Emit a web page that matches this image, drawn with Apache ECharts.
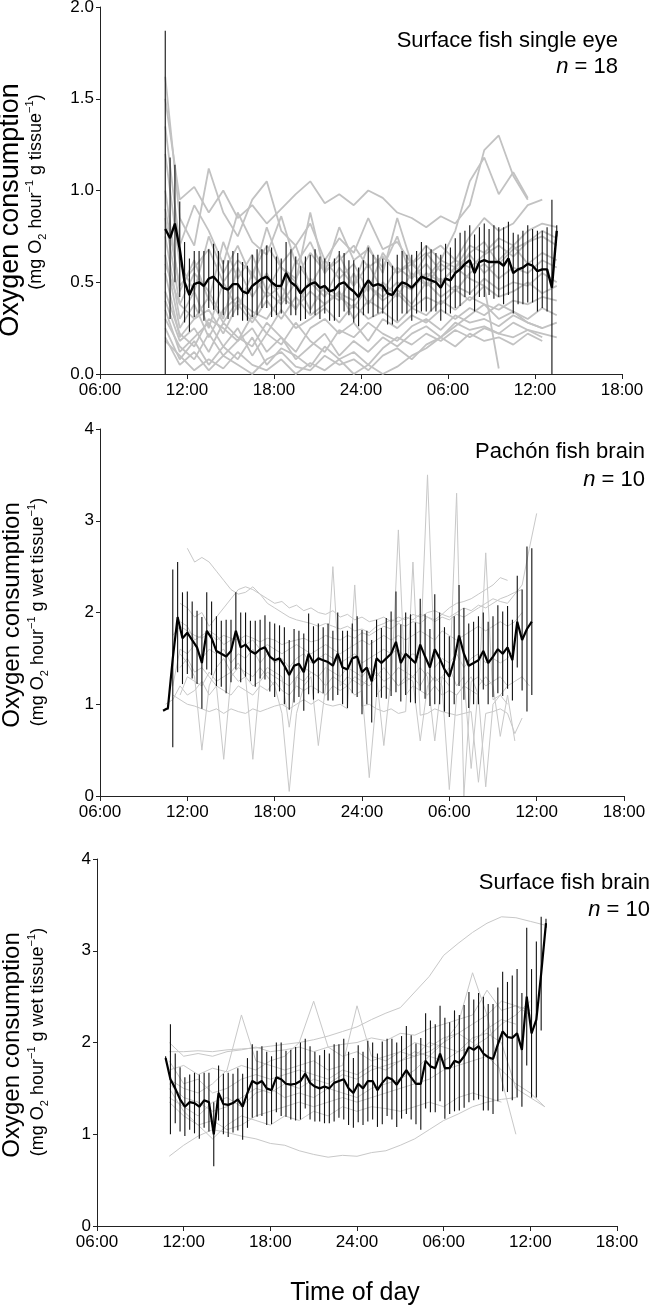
<!DOCTYPE html>
<html><head><meta charset="utf-8">
<script src="https://cdn.jsdelivr.net/npm/echarts@6/dist/echarts.min.js"></script>
<style>html,body{margin:0;padding:0;background:#fff}#c{width:660px;height:1310px}</style>
</head><body><div id="c"></div>
<script>
// ---------- shared ----------
const timeTickLabels = ['06:00','12:00','18:00','24:00','06:00','12:00','18:00'];

// ---------- Panel 1 : Surface fish single eye (n = 18) ----------
const eyeMeanStart = 10.5, eyeMeanStep = 1/3;
const eyeMean = [0.79,0.74,0.82,0.68,0.50,0.43,0.49,0.50,0.48,0.52,
  0.53,0.50,0.47,0.46,0.49,0.49,0.45,0.44,0.48,0.50,
  0.52,0.53,0.50,0.48,0.48,0.55,0.50,0.48,0.44,0.47,
  0.49,0.50,0.47,0.48,0.45,0.46,0.49,0.50,0.47,0.45,
  0.42,0.47,0.51,0.48,0.49,0.48,0.44,0.43,0.47,0.50,
  0.49,0.47,0.50,0.53,0.52,0.51,0.50,0.47,0.52,0.51,
  0.55,0.57,0.60,0.62,0.55,0.61,0.62,0.61,0.61,0.61,
  0.59,0.63,0.55,0.57,0.58,0.60,0.59,0.56,0.57,0.57,
  0.47,0.78];
const eyeSE = [1.08,0.44,0.32,0.26,0.22,0.20,0.18,0.17,0.19,0.16,
  0.18,0.17,0.15,0.16,0.18,0.17,0.16,0.15,0.17,0.18,
  0.16,0.17,0.19,0.16,0.15,0.17,0.18,0.16,0.15,0.17,
  0.16,0.18,0.17,0.15,0.16,0.17,0.18,0.16,0.15,0.17,
  0.16,0.15,0.18,0.17,0.16,0.15,0.17,0.16,0.18,0.17,
  0.16,0.18,0.17,0.19,0.18,0.17,0.16,0.18,0.19,0.18,
  0.19,0.20,0.18,0.19,0.21,0.19,0.20,0.18,0.20,0.19,
  0.21,0.20,0.22,0.19,0.20,0.21,0.20,0.22,0.21,0.23,
  0.48,0.03];
const eyeTraceStart = 10.5, eyeTraceStep = 1;
const eyeTraces = [
  [1.50,0.95,1.02,0.88,1.00,0.85,0.92,0.82,0.90,0.98,1.05,0.93,0.98,0.92,1.00,0.96,0.88,0.85,0.80,0.86,0.82,0.92,1.22,1.30,1.08,0.95,null,null],
  [1.62,0.85,0.70,1.12,0.88,0.75,0.95,1.05,0.78,0.70,0.82,0.62,0.74,0.66,0.85,0.68,0.72,0.60,0.70,0.62,0.78,1.05,1.18,0.98,1.10,0.96,null,null],
  [1.35,0.70,0.92,0.78,0.60,0.88,0.72,0.65,0.86,0.60,0.72,0.55,0.80,0.62,0.68,0.58,0.75,0.52,0.65,0.70,0.62,0.75,0.85,0.78,0.82,0.92,0.95,null],
  [1.20,0.60,0.45,0.75,0.55,0.70,0.52,0.80,0.58,0.50,0.88,0.55,0.65,0.48,0.70,0.55,0.85,0.60,0.52,0.62,0.58,0.70,0.66,0.74,0.70,0.78,0.82,0.80],
  [1.00,0.45,0.62,0.40,0.72,0.52,0.65,0.45,0.60,0.70,0.48,0.62,0.52,0.60,0.45,0.66,0.55,0.62,0.48,0.60,0.55,0.66,0.72,0.60,0.68,0.72,0.75,0.70],
  [0.85,0.38,0.55,0.45,0.30,0.58,0.42,0.55,0.40,0.62,0.50,0.42,0.58,0.48,0.60,0.45,0.58,0.52,0.60,0.50,0.58,0.65,0.55,0.62,0.70,0.60,0.66,0.62],
  [0.75,0.30,0.45,0.25,0.50,0.35,0.55,0.42,0.48,0.35,0.52,0.45,0.40,0.55,0.38,0.50,0.42,0.55,0.48,0.52,0.45,0.55,0.60,0.52,0.58,0.55,0.62,0.58],
  [0.65,0.25,0.38,0.20,0.35,0.42,0.30,0.45,0.38,0.50,0.35,0.48,0.42,0.36,0.48,0.40,0.46,0.38,0.50,0.42,0.48,0.44,0.52,0.46,0.50,0.48,0.55,0.50],
  [0.55,0.20,0.30,0.35,0.22,0.38,0.28,0.40,0.30,0.42,0.32,0.38,0.45,0.30,0.40,0.35,0.44,0.36,0.42,0.38,0.46,0.40,0.48,0.42,0.45,0.50,0.44,0.48],
  [0.45,0.22,0.15,0.30,0.25,0.18,0.32,0.22,0.35,0.25,0.30,0.36,0.28,0.38,0.30,0.34,0.28,0.36,0.32,0.40,0.35,0.42,0.38,0.35,0.40,0.38,0.42,0.40],
  [0.40,0.18,0.25,0.12,0.28,0.20,0.15,0.28,0.20,0.12,0.25,0.30,0.22,0.28,0.18,0.30,0.25,0.32,0.28,0.35,0.30,0.36,0.32,0.38,0.34,0.30,0.36,0.32],
  [0.35,0.12,0.20,0.28,0.15,0.25,0.10,0.22,0.16,0.28,0.18,0.12,0.24,0.20,0.28,0.22,0.18,0.26,0.30,0.24,0.32,0.28,0.30,0.26,0.32,0.28,0.25,0.28],
  [0.30,0.15,0.08,0.22,0.10,0.18,0.25,0.12,0.20,0.08,0.15,0.22,0.10,0.18,0.12,0.20,0.15,0.22,0.26,0.20,0.28,0.24,0.26,0.22,0.28,0.24,0.22,0.20],
  [0.25,0.08,0.18,0.05,0.15,0.08,0.20,0.05,0.14,0.10,0.04,0.15,0.08,0.12,0.05,0.14,0.20,0.16,0.22,0.18,0.24,0.20,0.25,0.22,0.20,0.24,0.20,null],
  [0.20,0.05,0.12,0.02,0.10,0.05,0.00,0.08,0.12,0.04,0.02,0.10,0.05,0.08,0.02,0.10,0.14,0.08,0.16,0.20,0.15,0.22,0.18,0.20,0.16,0.22,0.18,null],
  [0.18,0.10,0.02,0.08,0.03,0.12,0.05,0.02,0.08,0.00,0.06,0.02,0.08,0.00,0.05,0.00,0.04,0.10,0.14,0.20,0.26,0.32,0.38,0.30,0.34,0.28,0.25,null],
  [0.60,0.38,0.30,0.42,0.28,0.40,0.34,0.30,0.42,0.36,0.45,0.38,0.44,0.40,0.48,0.42,0.50,0.46,0.55,0.50,0.58,0.52,0.48,0.03,null,null,null,null],
  [0.90,0.48,0.58,0.68,0.50,0.62,0.55,0.70,0.58,0.52,0.66,0.56,0.62,0.70,0.58,0.64,0.55,0.60,0.66,0.56,0.62,0.58,0.65,0.70,0.64,0.72,0.78,0.74]
];

// ---------- Panel 2 : Pachón fish brain (n = 10) ----------
const pachonMeanStart = 10 + 20/60, pachonMeanStep = 1/3;
const pachonMean = [0.93,0.96,1.50,1.95,1.72,1.78,1.70,1.62,1.45,1.80,
  1.72,1.58,1.55,1.52,1.58,1.80,1.62,1.65,1.58,1.55,
  1.60,1.62,1.52,1.48,1.50,1.42,1.32,1.42,1.44,1.35,
  1.55,1.45,1.50,1.48,1.46,1.42,1.55,1.40,1.38,1.50,
  1.52,1.35,1.40,1.25,1.50,1.45,1.50,1.55,1.68,1.45,
  1.55,1.50,1.45,1.65,1.52,1.40,1.60,1.50,1.38,1.30,
  1.48,1.75,1.55,1.42,1.45,1.48,1.58,1.45,1.52,1.60,
  1.55,1.62,1.48,1.90,1.70,1.82,1.90];
const pachonSE = [0,0.02,0.97,0.60,0.50,0.45,0.42,0.40,0.50,0.42,
  0.40,0.38,0.36,0.40,0.34,0.42,0.38,0.35,0.33,0.36,
  0.32,0.35,0.38,0.40,0.36,0.42,0.38,0.40,0.36,0.42,
  0.44,0.40,0.38,0.36,0.42,0.38,0.45,0.40,0.42,0.38,
  0.44,0.46,0.40,0.45,0.42,0.38,0.44,0.46,0.55,0.42,
  0.45,0.48,0.44,0.50,0.46,0.42,0.60,0.50,0.46,0.44,
  0.48,0.55,0.50,0.46,0.45,0.48,0.42,0.45,0.44,0.48,
  0.46,0.45,0.44,0.50,0.55,0.90,0.80];
const pachonTraceStart = 10.5, pachonTraceStep = 0.5;
const pachonTraces = [
  [null,null,null,2.70,2.55,2.60,2.55,2.45,2.35,2.25,2.20,2.22,2.28,2.20,2.15,2.10,2.12,2.05,2.08,2.02,2.05,2.00,1.98,2.02,1.95,1.98,1.92,1.95,1.90,1.92,1.95,1.90,1.95,1.92,1.98,1.95,2.00,2.02,1.98,2.05,2.10,2.12,2.15,2.20,2.25,2.30,2.38,2.35,null,null,null,null],
  [null,null,2.10,2.05,1.95,2.00,1.85,1.95,2.05,2.15,2.25,2.28,2.25,2.20,2.10,2.05,2.00,1.95,1.92,1.90,1.88,1.85,1.88,1.85,1.82,1.85,1.80,1.82,1.78,1.85,1.88,1.92,1.90,1.95,1.92,1.98,1.95,1.90,1.95,1.92,1.98,1.95,2.00,2.05,2.10,2.15,2.12,2.10,2.20,2.30,2.70,3.08],
  [null,1.75,1.85,1.80,1.75,1.72,1.78,1.70,1.75,1.72,1.70,1.75,1.72,1.68,1.72,1.70,1.65,1.68,1.70,1.72,1.68,1.70,1.75,1.72,1.70,1.75,1.72,1.78,1.75,1.80,1.85,1.82,1.88,1.85,1.90,1.88,1.95,1.92,1.98,1.95,2.00,2.05,2.02,2.08,2.05,2.10,2.15,2.18,2.22,2.25,null,null],
  [null,1.20,1.60,1.55,1.65,1.50,1.60,1.55,1.60,1.45,1.55,1.50,1.60,1.45,1.55,1.45,1.50,1.40,1.50,1.55,1.45,1.50,1.55,1.50,1.45,1.50,1.55,1.45,1.50,1.55,1.60,1.55,1.60,1.50,1.55,1.50,3.50,1.40,1.50,1.45,1.55,1.40,1.50,1.55,1.45,1.50,1.45,1.50,1.60,null,null,null],
  [null,null,1.10,1.30,1.25,1.20,1.35,1.25,1.30,1.35,1.25,1.30,1.20,1.25,1.35,1.30,1.25,1.20,1.30,1.25,1.35,1.30,1.20,2.50,1.20,1.30,1.25,1.20,1.30,1.35,1.25,1.30,1.20,1.25,1.30,1.20,1.35,1.25,1.30,1.20,3.30,0.00,1.25,1.30,1.20,1.25,1.30,1.20,1.25,1.30,1.20,null],
  [1.00,1.05,1.20,1.10,1.15,1.25,1.10,1.20,1.15,1.10,1.20,1.15,1.10,1.20,1.15,1.25,1.15,1.10,1.20,1.15,1.20,1.15,1.10,1.20,1.15,1.20,1.10,1.15,0.20,1.10,1.20,1.15,2.90,1.10,1.20,1.15,1.10,1.20,1.10,1.15,1.10,1.20,1.15,1.10,2.65,1.05,1.10,1.00,null,null,null,null],
  [null,1.10,1.05,1.00,0.98,0.95,0.92,0.95,0.90,0.95,0.92,0.90,0.95,0.92,0.95,0.98,1.00,0.95,1.00,1.05,1.00,1.05,1.00,0.98,1.00,0.95,2.30,0.98,1.00,0.95,0.92,0.95,0.90,0.92,2.55,0.88,0.90,0.95,0.92,0.90,0.88,0.90,0.92,0.15,0.90,0.92,0.95,0.90,0.68,0.85,null,null],
  [null,null,1.40,1.50,1.35,1.40,1.30,1.20,0.40,1.30,1.40,1.35,1.30,1.40,1.30,1.20,0.90,0.05,0.90,1.20,1.30,0.55,1.20,1.30,1.25,1.20,1.30,1.25,1.20,1.30,1.40,1.30,1.20,1.30,1.25,0.60,1.20,1.30,1.20,0.07,1.10,1.20,1.30,1.10,0.10,1.00,1.10,1.20,null,null,null,null],
  [null,null,1.55,1.45,1.30,0.50,1.20,1.40,1.50,1.35,1.45,1.30,0.40,1.30,1.40,1.35,1.30,0.75,1.30,1.40,1.35,1.30,1.40,1.35,1.30,1.40,1.35,1.30,1.40,1.30,0.55,1.30,1.40,1.35,1.30,1.40,1.30,0.60,1.30,1.40,1.20,1.30,0.30,1.20,1.30,1.20,0.65,1.10,0.60,null,null,null],
  [null,null,1.90,1.85,1.70,1.75,1.80,1.75,1.65,1.70,1.75,1.65,1.70,1.60,1.65,1.60,1.55,1.60,1.65,1.60,1.55,1.60,1.65,1.60,1.55,1.60,1.65,1.70,1.65,1.70,1.75,1.70,1.75,1.70,1.75,1.80,1.75,1.70,1.80,1.75,1.70,1.75,1.80,1.85,1.80,1.85,1.90,1.85,1.90,2.00,null,null]
];

// ---------- Panel 3 : Surface fish brain (n = 10) ----------
const surfMeanStart = 10.75, surfMeanStep = 1/3;
const surfMean = [1.83,1.60,1.50,1.38,1.30,1.35,1.34,1.30,1.37,1.35,
  1.00,1.45,1.33,1.32,1.34,1.38,1.30,1.45,1.58,1.55,
  1.58,1.50,1.48,1.62,1.60,1.55,1.54,1.55,1.58,1.66,
  1.56,1.52,1.50,1.52,1.50,1.56,1.58,1.60,1.50,1.45,
  1.55,1.50,1.58,1.58,1.48,1.56,1.62,1.60,1.54,1.62,
  1.70,1.62,1.55,1.55,1.80,1.74,1.72,1.88,1.72,1.72,
  1.80,1.78,1.85,1.95,1.92,1.96,1.88,1.84,1.82,1.98,
  2.12,2.06,2.05,2.10,1.92,2.50,2.10,2.25,2.75,3.30];
const surfSE = [0.02,0.60,0.38,0.35,0.32,0.30,0.33,0.35,0.30,0.32,
  0.35,0.30,0.33,0.35,0.32,0.34,0.36,0.38,0.40,0.36,
  0.38,0.40,0.37,0.38,0.40,0.36,0.38,0.40,0.42,0.38,
  0.40,0.38,0.36,0.40,0.38,0.42,0.40,0.44,0.40,0.38,
  0.42,0.40,0.44,0.42,0.40,0.45,0.42,0.44,0.46,0.45,
  0.48,0.46,0.44,0.50,0.52,0.50,0.48,0.52,0.55,0.50,
  0.55,0.52,0.56,0.60,0.55,0.58,0.62,0.58,0.60,0.62,
  0.65,0.60,0.68,0.70,0.62,0.75,0.70,0.85,0.62,0.05];
const surfTraceStart = 11, surfTraceStep = 1;
const surfTraces = [
  [1.90,1.90,1.91,1.90,1.92,1.93,1.94,1.96,1.98,2.00,2.03,2.07,2.12,2.17,2.25,2.32,2.38,2.55,2.72,2.95,3.08,3.20,3.30,3.37,3.36,3.32,3.28],
  [0.76,0.88,0.98,1.05,1.02,0.98,0.95,0.90,0.88,0.82,0.78,0.75,0.77,0.76,0.80,0.82,0.88,0.95,1.05,1.15,1.22,1.30,1.35,1.38,1.40,null,null],
  [2.00,1.85,1.88,1.85,1.90,1.92,1.95,1.90,1.92,1.95,1.90,1.95,1.98,2.00,2.05,2.02,2.10,2.08,2.15,2.20,2.25,2.30,2.57,2.35,2.40,2.30,null],
  [1.70,1.75,1.65,1.72,1.68,1.75,1.70,1.80,1.85,2.00,2.45,1.95,1.85,1.90,1.80,1.85,1.90,2.00,1.95,2.05,2.10,2.00,2.15,2.25,2.20,null,null],
  [1.60,1.50,1.45,1.55,1.70,2.30,1.80,1.75,1.70,1.75,1.80,1.70,1.75,2.40,1.85,1.80,1.90,1.85,2.00,1.95,1.90,2.05,2.10,2.00,1.50,1.40,1.30],
  [1.55,1.40,1.35,1.25,1.30,1.40,1.50,1.45,1.55,1.50,1.60,1.55,1.65,1.60,1.70,1.75,1.80,1.85,1.90,2.00,2.20,2.76,2.30,1.60,1.00,null,null],
  [1.35,1.20,1.10,1.15,1.05,1.10,1.20,1.25,1.30,1.35,1.30,1.35,1.40,1.35,1.40,1.45,1.50,1.55,1.60,1.70,1.75,1.80,1.85,1.70,1.55,1.45,1.30],
  [1.50,1.25,1.10,0.95,1.10,1.20,1.15,1.10,1.20,1.15,1.25,1.20,1.30,1.25,1.30,1.28,1.25,1.30,1.35,1.30,1.40,1.45,1.40,1.35,null,null,null],
  [1.80,1.55,1.60,1.45,1.50,1.60,1.65,1.60,1.65,1.70,1.65,1.60,1.70,1.65,1.75,1.70,1.80,1.90,1.85,2.00,2.10,2.20,2.30,2.45,2.40,2.35,null],
  [1.40,1.30,1.20,1.35,1.40,1.30,1.45,1.50,1.40,1.45,1.40,1.50,1.45,1.40,1.50,1.55,1.60,1.70,1.85,1.80,1.90,1.95,2.05,2.20,2.30,2.45,null]
];

// ---------- build ----------
const FONT = '"Liberation Sans", Arial, Helvetica, sans-serif';
const chart = echarts.init(document.getElementById('c'), null, {renderer: 'canvas'});

const grids = [
  {left: 100, top: 7, width: 522, height: 367},
  {left: 100, top: 429, width: 524, height: 367},
  {left: 97, top: 859, width: 520, height: 367}
].map(g => Object.assign({containLabel: false, outerBoundsMode: 'none'}, g));

const axisCommon = {
  axisLine: {show: true, onZero: false, lineStyle: {color: '#222', width: 1}},
  axisTick: {show: true, inside: false, length: 5, lineStyle: {color: '#222', width: 1}},
  splitLine: {show: false},
  axisLabel: {color: '#000', fontSize: 17, fontFamily: FONT, showMinLabel: true, showMaxLabel: true}
};
const xAxes = [0, 1, 2].map(i => echarts.util.merge({
  type: 'value', gridIndex: i, min: 6, max: 42, interval: 6,
  axisLabel: {margin: 8, formatter: v => timeTickLabels[Math.round((v - 6) / 6)]}
}, axisCommon, false));
const yAxes = [
  {max: 2, interval: 0.5, fmt: v => v.toFixed(1)},
  {max: 4, interval: 1, fmt: v => String(v)},
  {max: 4, interval: 1, fmt: v => String(v)}
].map((a, i) => echarts.util.merge({
  type: 'value', gridIndex: i, min: 0, max: a.max, interval: a.interval,
  axisLabel: {margin: 6, formatter: a.fmt},
  axisTick: {length: 4}
}, axisCommon, false));

const series = [];
function addPanel(gi, traces, tStart, tStep, mean, se, mStart, mStep, ymin, ymax, greyColor, greyWidth, meanWidth) {
  traces.forEach(tr => {
    const data = [];
    tr.forEach((v, i) => { if (v !== null) data.push([tStart + i * tStep, v]); });
    series.push({type: 'line', xAxisIndex: gi, yAxisIndex: gi, data, symbol: 'none', showSymbol: false,
      silent: true, animation: false, z: 1, lineStyle: {color: greyColor, width: greyWidth}});
  });
  const err = mean.map((m, i) => [mStart + i * mStep, Math.max(ymin, m - se[i]), Math.min(ymax, m + se[i])]);
  series.push({type: 'custom', xAxisIndex: gi, yAxisIndex: gi, data: err, silent: true, animation: false, z: 2,
    encode: {x: 0, y: [1, 2]},
    renderItem: (params, api) => {
      const p1 = api.coord([api.value(0), api.value(1)]);
      const p2 = api.coord([api.value(0), api.value(2)]);
      return {type: 'line', shape: {x1: p1[0], y1: p1[1], x2: p2[0], y2: p2[1]},
        style: {stroke: '#111', lineWidth: 1.1}};
    }});
  series.push({type: 'line', xAxisIndex: gi, yAxisIndex: gi, symbol: 'none', showSymbol: false,
    silent: true, animation: false, z: 3,
    data: mean.map((m, i) => [mStart + i * mStep, m]),
    lineStyle: {color: '#000', width: meanWidth}});
}
addPanel(0, eyeTraces, eyeTraceStart, eyeTraceStep, eyeMean, eyeSE, eyeMeanStart, eyeMeanStep, 0, 2, '#c2c2c2', 1.8, 2.4);
addPanel(1, pachonTraces, pachonTraceStart, pachonTraceStep, pachonMean, pachonSE, pachonMeanStart, pachonMeanStep, 0, 4, '#c8c8c8', 1, 2.2);
addPanel(2, surfTraces, surfTraceStart, surfTraceStep, surfMean, surfSE, surfMeanStart, surfMeanStep, 0, 4, '#c8c8c8', 1, 2.2);

// ---------- texts ----------
const supRich = {
  sup: {fontSize: 11, fontFamily: FONT, verticalAlign: 'top', lineHeight: 12, fill: '#000'},
  sub: {fontSize: 11, fontFamily: FONT, verticalAlign: 'bottom', lineHeight: 16, fill: '#000'},
  it: {fontSize: 22, fontFamily: FONT, fontStyle: 'italic', fill: '#000'}
};
function rotText(x, y, text, size) {
  return {type: 'text', x, y, rotation: Math.PI / 2, silent: true,
    style: {text, fontSize: size, fontFamily: FONT, fill: '#000', align: 'center', verticalAlign: 'middle',
      textAlign: 'center', textVerticalAlign: 'middle', lineHeight: 24, rich: supRich}};
}
function rightText(x, y, text) {
  return {type: 'text', x, y, silent: true,
    style: {text, fontSize: 22, fontFamily: FONT, fill: '#000', align: 'right', verticalAlign: 'middle',
      textAlign: 'right', textVerticalAlign: 'middle', rich: supRich}};
}
const sub1 = '(mg O{sub|2} hour{sup|\u22121} g tissue{sup|\u22121})';
const sub2 = '(mg O{sub|2} hour{sup|\u22121} g wet tissue{sup|\u22121})';
const graphics = [
  rotText(11, 210, 'Oxygen consumption', 27),
  rotText(36, 192, sub1, 18),
  rotText(12, 615, 'Oxygen consumption', 24),
  rotText(38, 612, sub2, 18),
  rotText(12, 1045, 'Oxygen consumption', 24),
  rotText(38, 1042, sub2, 18),
  rightText(618, 41, 'Surface fish single eye'),
  rightText(618, 67, '{it|n} = 18'),
  rightText(645, 452, 'Pachón fish brain'),
  rightText(645, 480, '{it|n} = 10'),
  rightText(650, 883, 'Surface fish brain'),
  rightText(650, 910, '{it|n} = 10'),
  {type: 'text', x: 355, y: 1293, silent: true,
    style: {text: 'Time of day', fontSize: 25, fontFamily: FONT, fill: '#000', align: 'center', verticalAlign: 'middle',
      textAlign: 'center', textVerticalAlign: 'middle'}}
];

chart.setOption({
  animation: false,
  backgroundColor: '#fff',
  grid: grids,
  xAxis: xAxes,
  yAxis: yAxes,
  series,
  graphic: {elements: graphics}
});
</script>
</body></html>
